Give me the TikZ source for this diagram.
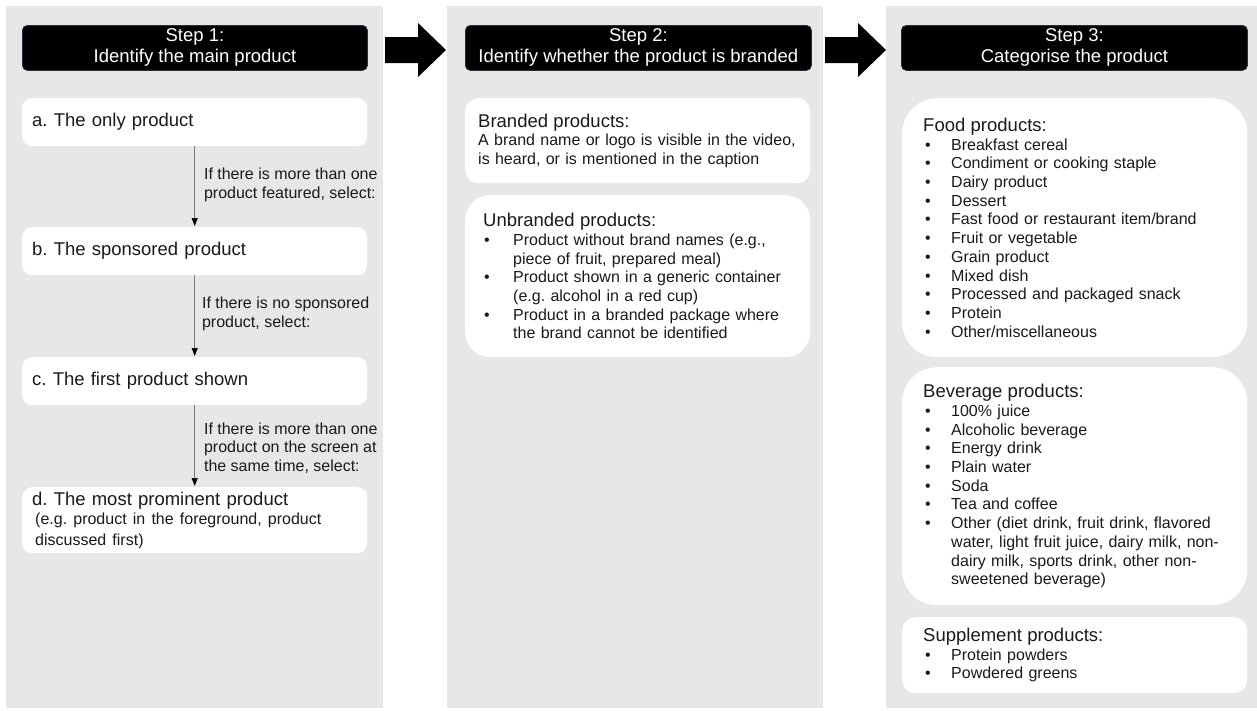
\documentclass[tikz,border=0pt]{standalone}
\usepackage{fontspec}
\setmainfont{Liberation Sans}
\usetikzlibrary{arrows.meta}
\definecolor{panelgray}{HTML}{E7E7E7}
\definecolor{txt}{HTML}{1A1A1A}
\definecolor{hdrline}{HTML}{22303C}
\definecolor{connline}{HTML}{7A7A7A}
\newcommand{\tfont}{\fontsize{18.5}{21}\selectfont}
\newcommand{\bfont}{\fontsize{16}{18.7}\selectfont}
\newcommand{\bulA}{\makebox[30pt][l]{\hspace{1pt}\textbullet}}
\newcommand{\indA}{\hspace*{30pt}}
\newcommand{\bulB}{\makebox[28pt][l]{\hspace{2pt}\textbullet}}
\newcommand{\indB}{\hspace*{28pt}}
\frenchspacing
\begin{document}
\begin{tikzpicture}[x=1pt,y=-1pt,
  panel/.style={fill=panelgray, draw=none},
  header/.style={fill=black, draw=hdrline, line width=0.8pt, rounded corners=5pt,
    text=white, font=\tfont, align=center, minimum width=345pt,
    minimum height=45pt, inner sep=0pt, anchor=north west},
  wbox/.style={fill=white, draw=none, anchor=north west, text=txt, align=left,
    inner ysep=0pt},
  conn/.style={draw=connline, line width=0.7pt,
    -{Triangle[length=8pt,width=6pt,fill=black,color=black]}, shorten >=1pt},
  lbl/.style={font=\bfont, text=txt, align=left, anchor=west, inner sep=0pt},
  bigarrow/.style={fill=black, draw=none}
]
\useasboundingbox (0,0) rectangle (1257,710);
% panels
\fill[panel] (6,6) rectangle (383,708);
\fill[panel] (447,6) rectangle (823,708);
\fill[panel] (886,6) rectangle (1257,708);

% big arrows between panels
\fill[bigarrow] (385,37) -- (418,37) -- (418,23) -- (446,50) -- (418,77) -- (418,63) -- (385,63) -- cycle;
\fill[bigarrow] (825,37) -- (858,37) -- (858,23) -- (886,50) -- (858,77) -- (858,63) -- (825,63) -- cycle;

% headers
\node[header] (h1) at (22,25) {Step 1:\\Identify the main product};
\node[header, minimum width=346pt] (h2) at (465,25) {Step 2:\\Identify whether the product is branded};
\node[header, minimum width=346pt] (h3) at (901,25) {Step 3:\\Categorise the product};

% step 1 boxes
\node[wbox, rounded corners=10pt, inner xsep=10pt, text width=325pt, minimum height=48pt, font=\tfont]
  (a) at (22,98) {a. The only product};
\node[wbox, rounded corners=10pt, inner xsep=10pt, text width=325pt, minimum height=48pt, font=\tfont]
  (b) at (22,227) {b. The sponsored product};
\node[wbox, rounded corners=10pt, inner xsep=10pt, text width=325pt, minimum height=48pt, font=\tfont]
  (c) at (22,357) {c. The first product shown};
\node[wbox, rounded corners=10pt, inner xsep=10pt, text width=325pt, minimum height=66pt, font=\tfont]
  (d) at (22,487) {d. The most prominent product\\\bfont\hspace*{3pt}(e.g. product in the foreground, product\\\hspace*{3pt}discussed first)};

\draw[conn] (a) -- (b) node[lbl, midway, xshift=9pt, yshift=2pt] {If there is more than one\\product featured, select:};
\draw[conn] (b) -- (c) node[lbl, midway, xshift=7pt, yshift=2pt] {If there is no sponsored\\product, select:};
\draw[conn] (c) -- (d) node[lbl, midway, xshift=9pt, yshift=-2pt] {If there is more than one\\product on the screen at\\the same time, select:};

% step 2 boxes
\node[wbox, rounded corners=13pt, inner xsep=13pt, text width=319pt, minimum height=85pt, font=\bfont]
  (br) at (465,98) {{\tfont Branded products:}\\A brand name or logo is visible in the video,\\is heard, or is mentioned in the caption};
\node[wbox, rounded corners=25pt, inner xsep=18pt, text width=309pt, minimum height=162pt, font=\bfont]
  (ub) at (465,195) {{\tfont Unbranded products:}\\
  \bulA Product without brand names (e.g.,\\
  \indA piece of fruit, prepared meal)\\
  \bulA Product shown in a generic container\\
  \indA (e.g. alcohol in a red cup)\\
  \bulA Product in a branded package where\\
  \indA the brand cannot be identified};

% step 3 boxes
\node[wbox, rounded corners=35pt, inner xsep=21pt, text width=303pt, minimum height=259pt, font=\bfont]
  (food) at (902,98) {{\tfont Food products:}\\
  \bulB Breakfast cereal\\
  \bulB Condiment or cooking staple\\
  \bulB Dairy product\\
  \bulB Dessert\\
  \bulB Fast food or restaurant item/brand\\
  \bulB Fruit or vegetable\\
  \bulB Grain product\\
  \bulB Mixed dish\\
  \bulB Processed and packaged snack\\
  \bulB Protein\\
  \bulB Other/miscellaneous};
\node[wbox, rounded corners=35pt, inner xsep=21pt, text width=303pt, minimum height=238pt, font=\bfont]
  (bev) at (902,367) {{\tfont Beverage products:}\\
  \bulB 100\% juice\\
  \bulB Alcoholic beverage\\
  \bulB Energy drink\\
  \bulB Plain water\\
  \bulB Soda\\
  \bulB Tea and coffee\\
  \bulB Other (diet drink, fruit drink, flavored\\
  \indB water, light fruit juice, dairy milk, non-\\
  \indB dairy milk, sports drink, other non-\\
  \indB sweetened beverage)};
\node[wbox, rounded corners=13pt, inner xsep=21pt, text width=303pt, minimum height=76pt, font=\bfont]
  (sup) at (902,617) {{\tfont Supplement products:}\\
  \bulB Protein powders\\
  \bulB Powdered greens};
\end{tikzpicture}
\end{document}
